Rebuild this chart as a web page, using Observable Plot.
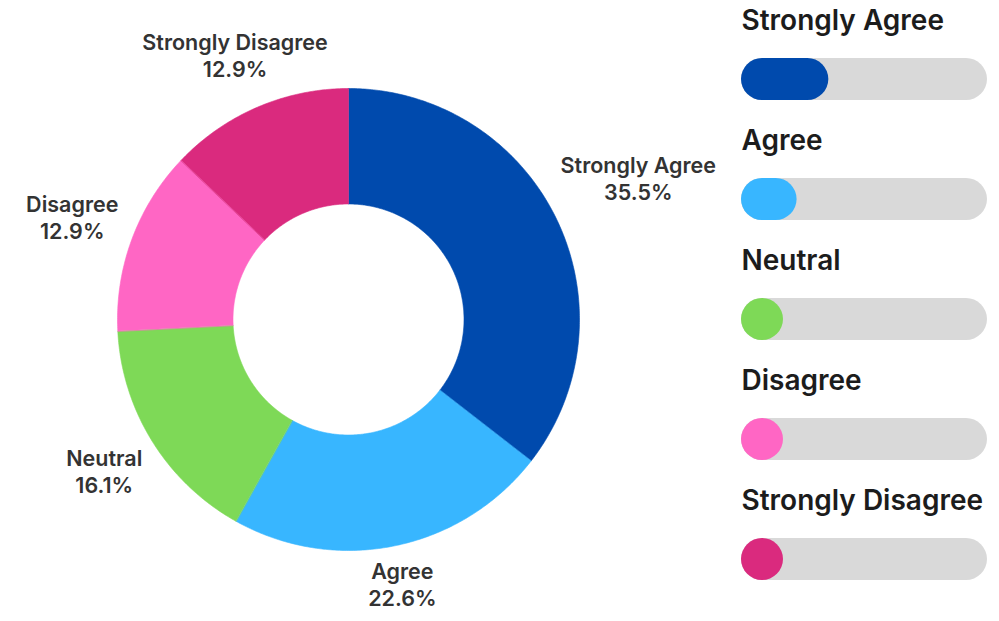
<!DOCTYPE html>
<html><head><meta charset="utf-8">
<script src="https://cdn.jsdelivr.net/npm/d3@7"></script>
<script src="https://cdn.jsdelivr.net/npm/@observablehq/plot@0.6"></script>
<style>
html,body{margin:0;padding:0;background:#fff;}
#wrap{position:relative;width:999px;height:621px;overflow:hidden;background:#fff;}
#donut{position:absolute;left:0;top:0;z-index:2;}
#bars{position:absolute;left:700px;top:0;z-index:1;}
#donut svg{overflow:visible;}
svg{font-family:Inter,"Noto Sans",sans-serif;}
</style></head><body>
<div id="wrap"><div id="bars"></div><div id="donut"></div></div>
<script>
// ---- data ----
const categories = ["Strongly Agree", "Agree", "Neutral", "Disagree", "Strongly Disagree"];
const percentages = [35.5, 22.6, 16.1, 12.9, 12.9];
const colors = ["#004AAD", "#38B6FF", "#7ED957", "#FF66C4", "#DA2A7E"];

// ---- donut ----
const R = 231;            // outer radius (px)
const innerRatio = 0.5;
const labelFont = 21.5;
const lineGap = 27;       // px between label baselines
const rows = categories.map((c, i) => ({cat: c, pct: percentages[i]}));
const pie = d3.pie().sort(null).value(d => d.pct).startAngle(0).endAngle(2 * Math.PI)(rows);

const slicePts = [];
for (const s of pie) {
  const n = Math.max(8, Math.ceil((s.endAngle - s.startAngle) / 0.01));
  for (let k = 0; k <= n; k++) {
    const a = s.startAngle + (s.endAngle - s.startAngle) * k / n;
    slicePts.push({cat: s.data.cat, x: Math.sin(a), y: Math.cos(a)});
  }
  for (let k = n; k >= 0; k--) {
    const a = s.startAngle + (s.endAngle - s.startAngle) * k / n;
    slicePts.push({cat: s.data.cat, x: innerRatio * Math.sin(a), y: innerRatio * Math.cos(a)});
  }
}

// place each two-line label box so that its nearest point sits a small gap outside the ring
const ctx = document.createElement("canvas").getContext("2d");
ctx.font = `600 ${labelFont}px Inter`;
const gap = 13;
const capH = labelFont * 0.727;
const boxH = capH + lineGap;
const clamp = (v, lo, hi) => Math.max(lo, Math.min(hi, v));
const labels = pie.map(s => {
  const a = (s.startAngle + s.endAngle) / 2;
  const ux = Math.sin(a), uy = -Math.cos(a); // screen direction (y down)
  const txt = [s.data.cat, s.data.pct.toFixed(1) + "%"];
  const w = Math.max(...txt.map(t => ctx.measureText(t).width));
  let lo = 0, hi = 3 * R;
  for (let it = 0; it < 60; it++) {
    const t = (lo + hi) / 2;
    const cx = t * ux, cy = t * uy;
    const px = clamp(0, cx - w / 2, cx + w / 2), py = clamp(0, cy - boxH / 2, cy + boxH / 2);
    if (Math.hypot(px, py) < R + gap) lo = t; else hi = t;
  }
  const t = (lo + hi) / 2;
  return {text: txt.join("\n"), x: t * ux / R, y: -(t * uy) / R};
});

const donut = Plot.plot({
  width: 700, height: 621,
  marginLeft: 117, marginRight: 700 - 117 - 2 * R,
  marginTop: 88, marginBottom: 621 - 88 - 2 * R,
  x: {domain: [-1, 1], axis: null},
  y: {domain: [-1, 1], axis: null},
  color: {domain: categories, range: colors},
  style: {background: "transparent", overflow: "visible"},
  marks: [
    Plot.line(slicePts, {x: "x", y: "y", z: "cat", fill: "cat", stroke: "cat", strokeWidth: 0.6, curve: "linear-closed"}),
    Plot.text(labels, {x: "x", y: "y", text: "text", lineAnchor: "middle", lineHeight: lineGap / labelFont,
      fontSize: labelFont, fontWeight: 600, fill: "#333", textAnchor: "middle", clip: false})
  ]
});
document.getElementById("donut").appendChild(donut);

// ---- progress bars ----
const barH = 42;
const trackW = 246;
const minPct = 100 * barH / trackW;
const bars = Plot.plot({
  width: 299, height: 621,
  marginLeft: 41, marginRight: 299 - 41 - trackW,
  marginTop: 19, marginBottom: 2,
  x: {domain: [0, 100], axis: null},
  y: {domain: categories, axis: null, padding: 0},
  color: {domain: categories, range: colors},
  style: {background: "transparent"},
  marks: [
    Plot.barX(rows, {x1: () => 0, x2: () => 100, y: "cat", fill: "#D9D9D9", rx: barH / 2,
      insetTop: (120 - barH) / 2, insetBottom: (120 - barH) / 2}),
    Plot.barX(rows, {x1: () => 0, x2: d => Math.max(d.pct, minPct), y: "cat", fill: "cat", rx: barH / 2,
      insetTop: (120 - barH) / 2, insetBottom: (120 - barH) / 2}),
    Plot.text(rows, {y: "cat", text: "cat", frameAnchor: "left", textAnchor: "start", lineAnchor: "bottom",
      dy: -50, fontSize: 28, fontWeight: 600, fill: "#1c1c1c"})
  ]
});
document.getElementById("bars").appendChild(bars);
</script>
</body></html>
